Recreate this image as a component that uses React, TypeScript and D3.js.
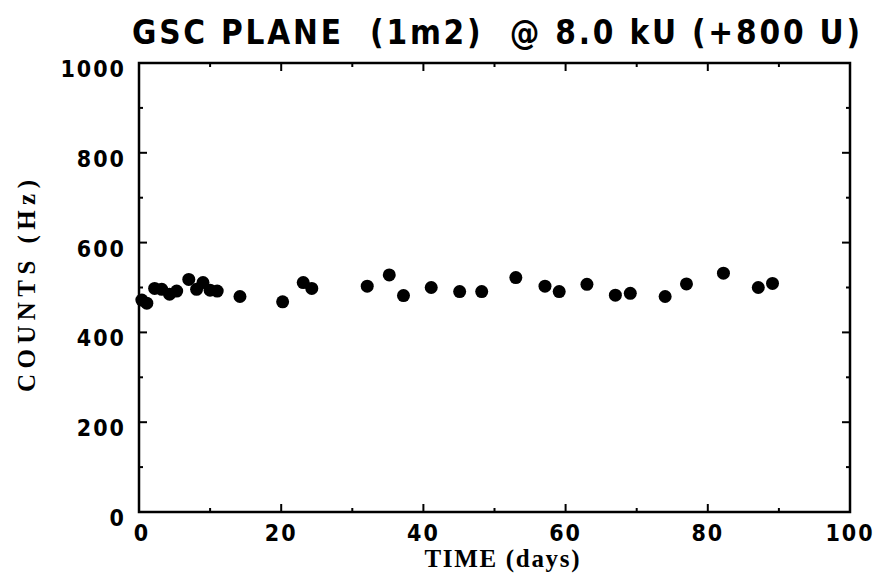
import React from "react";
import * as d3 from "d3";

const days = [0.4, 1.1, 2.2, 3.2, 4.3, 5.3, 7.0, 8.1, 9.0, 10.0, 11.0, 14.2, 20.2, 23.1, 24.3, 32.1, 35.2, 37.2, 41.1, 45.1, 48.2, 53.0, 57.1, 59.1, 63.0, 67.0, 69.1, 74.0, 77.0, 82.2, 87.1, 89.1];
const counts = [472, 465, 498, 496, 485, 492, 518, 496, 511, 494, 492, 480, 468, 511, 498, 503, 528, 482, 500, 491, 491, 522, 503, 491, 507, 483, 487, 480, 508, 532, 500, 509];
const xTicks = [0, 20, 40, 60, 80, 100];
const yTicks = [0, 200, 400, 600, 800, 1000];
const xMinor = [10, 30, 50, 70, 90];
const yMinor = [100, 300, 500, 700, 900];
const title = "GSC PLANE  (1m2)  @ 8.0 kU (+800 U)";
const xTitle = "TIME (days)";
const yTitle = "COUNTS (Hz)";

const W = 884, H = 587;
const L = 139, R = 850, T = 63, B = 512;

export default function App() {
  const x = d3.scaleLinear().domain([0, 100]).range([L, R]);
  const y = d3.scaleLinear().domain([0, 1000]).range([B, T]);
  const tickFont = { fontFamily: "'DejaVu Sans Condensed', 'DejaVu Sans', sans-serif", fontStretch: "condensed", fontWeight: 700 as const, fontSize: 23 };
  const serif = { fontFamily: "'Liberation Serif', 'Times New Roman', serif", fontWeight: 700 as const, fontSize: 25 };
  return (
    <svg width={W} height={H} viewBox={`0 0 ${W} ${H}`} style={{ position: "absolute", left: 0, top: 0, background: "#fff" }}>
      <rect x={0} y={0} width={W} height={H} fill="#fff" />
      <text x={(132 + 860) / 2} y={44} textAnchor="middle" textLength={728} lengthAdjust="spacing" style={{ ...tickFont, fontSize: 33, whiteSpace: "pre" }} fill="#000">{title}</text>
      <rect x={L} y={T} width={R - L} height={B - T} fill="none" stroke="#000" strokeWidth={2.5} />
      {xTicks.slice(1, -1).map((t) => (
        <g key={"xt" + t}>
          <line x1={x(t)} x2={x(t)} y1={B} y2={B - 8} stroke="#000" strokeWidth={2} />
          <line x1={x(t)} x2={x(t)} y1={T} y2={T + 8} stroke="#000" strokeWidth={2} />
        </g>
      ))}
      {xMinor.map((t) => (
        <g key={"xm" + t}>
          <line x1={x(t)} x2={x(t)} y1={B} y2={B - 4} stroke="#000" strokeWidth={2} />
          <line x1={x(t)} x2={x(t)} y1={T} y2={T + 4} stroke="#000" strokeWidth={2} />
        </g>
      ))}
      {yTicks.slice(1, -1).map((t) => (
        <g key={"yt" + t}>
          <line x1={L} x2={L + 8} y1={y(t)} y2={y(t)} stroke="#000" strokeWidth={2} />
          <line x1={R} x2={R - 8} y1={y(t)} y2={y(t)} stroke="#000" strokeWidth={2} />
        </g>
      ))}
      {yMinor.map((t) => (
        <g key={"ym" + t}>
          <line x1={L} x2={L + 4} y1={y(t)} y2={y(t)} stroke="#000" strokeWidth={2} />
          <line x1={R} x2={R - 4} y1={y(t)} y2={y(t)} stroke="#000" strokeWidth={2} />
        </g>
      ))}
      {xTicks.map((t) => (
        <text key={"xl" + t} x={x(t) + (t === 0 ? 3 : 0)} y={541} textAnchor="middle" style={{ ...tickFont, letterSpacing: 2 }} fill="#000">{t}</text>
      ))}
      {yTicks.map((t) => (
        <text key={"yl" + t} x={126} y={y(t) + 14} textAnchor="end" style={{ ...tickFont, letterSpacing: 2 }} fill="#000">{t}</text>
      ))}
      <text x={502} y={567} textAnchor="middle" textLength={155} lengthAdjust="spacing" style={serif} fill="#000">{xTitle}</text>
      <text transform={`translate(35,286) rotate(-90)`} textAnchor="middle" textLength={212} lengthAdjust="spacing" style={serif} fill="#000">{yTitle}</text>
      {days.map((d, i) => (
        <circle key={"p" + i} cx={x(d)} cy={y(counts[i])} r={6.5} fill="#000" />
      ))}
    </svg>
  );
}
